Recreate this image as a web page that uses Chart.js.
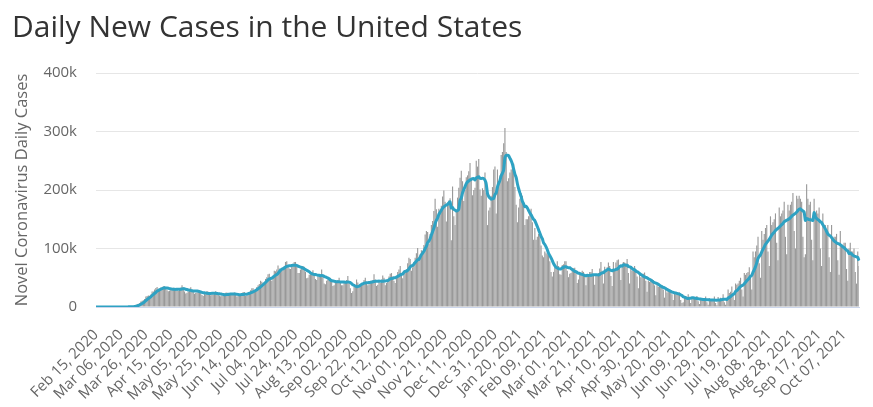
<!DOCTYPE html>
<html>
<head>
<meta charset="utf-8">
<title>Daily New Cases in the United States</title>
<script src="https://cdn.jsdelivr.net/npm/chart.js@4.4.1/dist/chart.umd.min.js"></script>
<style>
html, body { margin: 0; padding: 0; background: #ffffff; }
#wrap { position: relative; width: 873px; height: 407px; }
</style>
</head>
<body>
<div id="wrap"><canvas id="casesChart"></canvas></div>
<script>
const titleText = "Daily New Cases in the United States";
const yAxisTitle = "Novel Coronavirus Daily Cases";
const startDate = [2020, 1, 15];
const labelEvery = 20;
const tickLabels = [
"Feb 15, 2020", "Mar 06, 2020", "Mar 26, 2020", "Apr 15, 2020", "May 05, 2020",
"May 25, 2020", "Jun 14, 2020", "Jul 04, 2020", "Jul 24, 2020", "Aug 13, 2020",
"Sep 02, 2020", "Sep 22, 2020", "Oct 12, 2020", "Nov 01, 2020", "Nov 21, 2020",
"Dec 11, 2020", "Dec 31, 2020", "Jan 20, 2021", "Feb 09, 2021", "Mar 01, 2021",
"Mar 21, 2021", "Apr 10, 2021", "Apr 30, 2021", "May 20, 2021", "Jun 09, 2021",
"Jun 29, 2021", "Jul 19, 2021", "Aug 08, 2021", "Aug 28, 2021", "Sep 17, 2021",
"Oct 07, 2021"
];
const yTicksK = [0, 100, 200, 300, 400];

// daily new cases, thousands, one row per week (Sat..Fri)
const dailyCasesK = [
0, 0, 0, 0, 0, 0, 0,
0, 0, 0, 0, 0, 0, 0,
0.01, 0.02, 0.02, 0.03, 0.04, 0.05, 0.08,
0.12, 0.12, 0.2, 0.27, 0.4, 0.5, 0.6,
0.7, 0.8, 1.2, 1.8, 2.9, 4.7, 5.6,
7.0, 9.2, 10.6, 11.4, 13.7, 17.9, 18.9,
19.8, 19.3, 21.4, 26.4, 26.3, 29.9, 32.3,
34.1, 27.9, 30.6, 32.7, 33.4, 35.4, 35.5,
31.6, 28.7, 27.0, 27.6, 31.1, 32.6, 33.1,
31.8, 27.5, 28.9, 27.3, 30.9, 32.9, 37.2,
33.9, 26.5, 23.0, 24.4, 26.5, 30.3, 33.8,
29.3, 25.5, 22.6, 24.0, 25.0, 29.2, 28.2,
25.5, 20.3, 18.6, 22.9, 21.6, 27.3, 26.2,
25.0, 20.0, 21.9, 21.2, 22.5, 27.0, 24.0,
22.3, 19.8, 18.4, 19.5, 20.0, 22.6, 24.5,
25.0, 20.0, 22.0, 20.6, 21.0, 22.7, 25.0,
23.0, 18.0, 18.8, 19.0, 21.5, 23.5, 25.8,
25.5, 19.0, 20.0, 24.0, 26.0, 28.5, 32.0,
32.0, 26.0, 28.0, 34.0, 37.0, 39.5, 45.0,
43.0, 40.0, 42.0, 48.0, 51.0, 56.0, 57.0,
47.0, 45.0, 52.0, 62.0, 61.0, 64.0, 71.0,
66, 62, 65, 68, 70, 77, 78,
70, 66, 65, 70, 74, 77, 77,
69, 58, 58, 64, 70, 70, 69,
60, 49, 50, 55, 56, 60, 63,
56, 48, 46, 52, 54, 56, 64,
55, 40, 39, 45, 47, 48, 49,
47, 36, 37, 41, 45, 46, 50,
44, 37, 37, 41, 41, 46, 53,
43, 32, 24, 27, 35, 37, 47,
42, 36, 37, 38, 39, 46, 50,
43, 37, 39, 41, 43, 46, 56,
47, 36, 38, 44, 41, 47, 54,
50, 37, 41, 45, 52, 57, 58,
52, 45, 41, 53, 60, 64, 70,
57, 49, 62, 63, 64, 75, 84,
82, 62, 68, 77, 84, 92, 101,
85, 90, 97, 95, 106, 124, 130,
128, 108, 125, 140, 147, 164, 185,
167, 137, 168, 165, 173, 189, 199,
180, 146, 177, 182, 186, 114, 206,
155, 140, 165, 187, 204, 221, 233,
215, 181, 200, 222, 225, 232, 246,
221, 191, 200, 204, 250, 240, 253,
201, 190, 203, 200, 230, 195, 140,
165, 170, 190, 205, 235, 240, 160,
235, 215, 225, 260, 265, 280, 306,
265, 215, 220, 230, 235, 240, 245,
205, 175, 145, 170, 185, 195, 190,
175, 140, 150, 150, 155, 165, 168,
145, 115, 135, 115, 120, 125, 130,
105, 88, 85, 95, 92, 90, 88,
78, 60, 52, 60, 68, 70, 78,
70, 56, 55, 72, 73, 78, 78,
62, 51, 57, 58, 66, 66, 67,
58, 41, 47, 58, 57, 62, 60,
52, 37, 55, 54, 60, 60, 65,
55, 38, 53, 54, 58, 66, 77,
62, 40, 69, 62, 68, 76, 70,
53, 36, 77, 62, 76, 80, 81,
72, 46, 72, 77, 76, 75, 82,
58, 40, 68, 62, 65, 70, 65,
52, 32, 55, 51, 56, 57, 59,
45, 26, 45, 43, 48, 47, 46,
37, 20, 40, 34, 37, 36, 37,
30, 16, 30, 25, 28, 29, 29,
22, 12, 25, 22, 24, 24, 25,
12, 7, 8, 18, 18, 17, 22,
14, 7, 16, 16, 15, 15, 19,
10, 5, 15, 13, 14, 14, 18,
8, 4, 15, 12, 13, 13, 18,
7, 3, 17, 12, 16, 15, 22,
8, 4, 12, 30, 24, 26, 35,
20, 12, 40, 38, 40, 45, 50,
30, 18, 58, 55, 58, 60, 68,
50, 30, 95, 85, 95, 105, 120,
75, 50, 130, 115, 125, 135, 140,
95, 70, 155, 140, 145, 150, 160,
110, 80, 170, 155, 160, 165, 180,
120, 90, 175, 165, 175, 180, 195,
130, 100, 190, 185, 190, 185, 180,
120, 85, 90, 210, 185, 175, 180,
115, 80, 185, 160, 165, 160, 170,
100, 70, 160, 135, 140, 130, 140,
85, 60, 140, 115, 120, 120, 125,
80, 55, 130, 105, 105, 110, 110,
65, 45, 100, 110, 95, 95, 100,
60, 40, 95, 70
];

const monthNames = ["Jan", "Feb", "Mar", "Apr", "May", "Jun", "Jul", "Aug", "Sep", "Oct", "Nov", "Dec"];

document.addEventListener("DOMContentLoaded", () => {
drawChart();
});

function buildCategories(count) {
const out = [];
for (let i = 0; i < count; i++) {
const d = new Date(Date.UTC(startDate[0], startDate[1], startDate[2] + i));
const day = d.getUTCDate().toString().padStart(2, "0");
out.push(monthNames[d.getUTCMonth()] + " " + day + ", " + d.getUTCFullYear());
}
return out;
}

// 7-day trailing moving average of the daily values
function movingAverage(values, span) {
const out = [];
for (let i = 0; i < values.length; i++) {
let sum = 0;
let n = 0;
for (let j = Math.max(0, i - span + 1); j <= i; j++) {
sum += values[j];
n++;
}
out.push(sum / n);
}
return out;
}

function formatK(value) {
if (value === 0) {
return "0";
}
return value + "k";
}

function drawChart() {
const ctx = document.getElementById("casesChart");
if (!ctx) {
return;
}
Chart.defaults.font.family = "'Open Sans', sans-serif";
const categories = buildCategories(dailyCasesK.length);
const avg = movingAverage(dailyCasesK, 7);
new Chart(ctx, {
type: "bar",
data: {
labels: categories,
datasets: [
{
type: "line",
label: "7-day moving average",
data: avg,
borderColor: "#2ea2c3",
borderWidth: 3,
pointRadius: 0,
tension: 0.2,
fill: false,
order: 0
},
{
type: "bar",
label: "Daily Cases",
data: dailyCasesK,
backgroundColor: "#999999",
barPercentage: 1,
categoryPercentage: 0.9,
order: 1
}
]
},
options: {
responsive: true,
maintainAspectRatio: false,
animation: false,
layout: {
padding: { left: 12, right: 14, top: 0, bottom: 0 }
},
plugins: {
legend: { display: false },
tooltip: { enabled: false },
title: {
display: true,
text: titleText,
align: "start",
color: "#333333",
font: { size: 30, weight: "normal" },
padding: { top: 10.5, bottom: 26.5 }
}
},
scales: {
x: {
offset: false,
grid: { display: false, offset: false },
border: { display: true, color: "#ccd6eb", width: 1 },
ticks: {
autoSkip: false,
maxRotation: 45,
minRotation: 45,
padding: 11,
color: "#666666",
font: { size: 15 },
callback: (value, index) => index % labelEvery === 0 ? tickLabels[index / labelEvery] : null
},
afterFit: scale => {
scale.height = 100;
}
},
y: {
min: yTicksK[0],
max: yTicksK[yTicksK.length - 1],
grid: { color: "#e6e6e6", drawTicks: false },
border: { display: false },
ticks: {
stepSize: 100,
padding: 19,
color: "#666666",
font: { size: 15 },
callback: value => formatK(value)
},
title: {
display: true,
text: yAxisTitle,
color: "#666666",
font: { size: 16.5 },
padding: 0
},
afterFit: scale => {
scale.width = 84;
}
}
}
}
});
}
</script>
</body>
</html>
